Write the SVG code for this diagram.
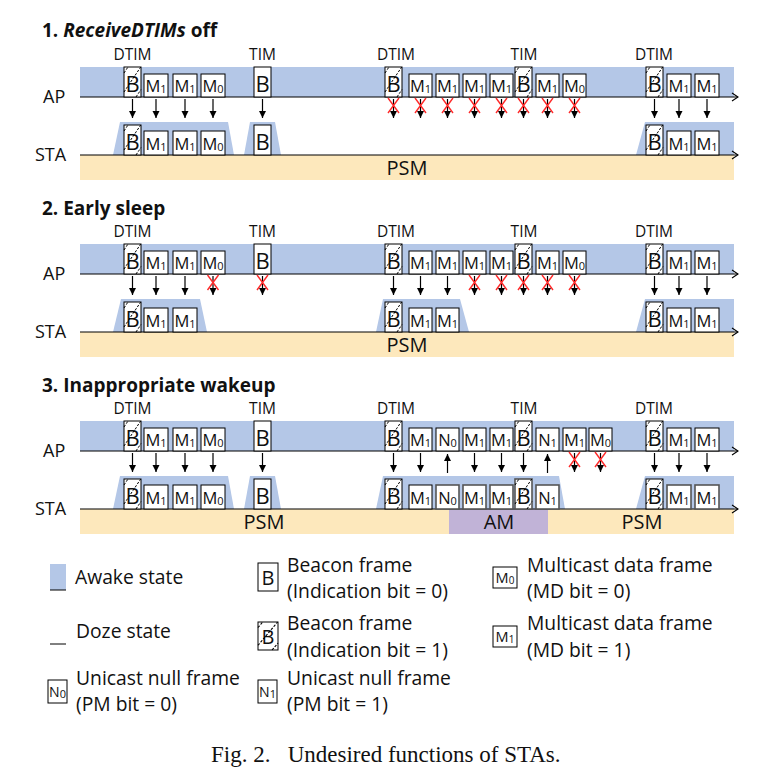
<svg xmlns="http://www.w3.org/2000/svg" xmlns:xlink="http://www.w3.org/1999/xlink" width="761" height="776" viewBox="0 0 761 776">
<style>
text{font-family:"Open Sans","DejaVu Sans",sans-serif;fill:#111}
.title{font-size:19px;font-weight:bold}
.side{font-size:18px}
.tag{font-size:15.5px;text-anchor:middle}
.tb{font-size:22px;text-anchor:middle}
.tm{font-size:16.5px;text-anchor:middle}
.sub{font-size:11px}
.state{font-size:20px;text-anchor:middle}
.leg{font-size:19.3px}
.cap{font-family:"Liberation Serif","Times New Roman",serif;font-size:23px}
.awake{fill:#b4c7e7}
.psm{fill:#fde8bc}
.am{fill:#c1b3d7}
.f{fill:#fff;stroke:#000;stroke-width:1}
.fg{fill:#fff;stroke:#555;stroke-width:1.6}
.axis{stroke:#000;stroke-width:1.2;fill:none;marker-end:url(#ax)}
.arr{stroke:#000;stroke-width:1.2;marker-end:url(#ah)}
.hl{stroke:#000;stroke-width:1;stroke-dasharray:2.5 1.5;fill:none}
.rx{stroke:#ff2a2a;stroke-width:1.4;fill:none}
</style>
<defs>
<marker id="ax" markerUnits="userSpaceOnUse" markerWidth="10" markerHeight="10" viewBox="0 0 10 10" refX="7" refY="5" orient="auto"><path d="M1,1 L7,5 L1,9" fill="none" stroke="#000" stroke-width="1.1"/></marker>
<marker id="ah" markerUnits="userSpaceOnUse" markerWidth="8" markerHeight="8" viewBox="0 0 8 8" refX="7" refY="4" orient="auto"><path d="M0,0.5 L7,4 L0,7.5 z" fill="#000"/></marker>
<g id="hatch"><path class="hl" d="M0,6 L4,0 M0,25 L16.7,0 M12,30 L17,22.5"/></g>
<g id="rx"><path class="rx" d="M-5.5,-7.5 L5.5,7.5 M5.5,-7.5 L-5.5,7.5"/></g>
</defs>

<!-- ===================== Section 1 ===================== -->
<g id="section1">
<text class="title" x="42" y="37">1. <tspan font-style="italic">ReceiveDTIMs</tspan> off</text>
<g id="s1-lanes">
<rect class="awake" x="80" y="67" width="654" height="30"/>
<rect class="psm" x="80" y="155" width="654" height="25"/>
<polygon class="awake" points="113,155 120,122 228,122 234,155"/>
<polygon class="awake" points="244,155 250,122 275,122 281,155"/>
<polygon class="awake" points="636,155 645,122 734,122 734,155"/>
<line class="axis" x1="80" y1="97" x2="738" y2="97"/>
<line class="axis" x1="80" y1="155" x2="738" y2="155"/>
<text class="side" x="43" y="103">AP</text>
<text class="side" x="35" y="161">STA</text>
<text class="state" x="407" y="175">PSM</text>
</g>
<g id="s1-tags">
<text class="tag" x="132.5" y="60">DTIM</text>
<text class="tag" x="262.5" y="60">TIM</text>
<text class="tag" x="396" y="60">DTIM</text>
<text class="tag" x="524" y="60">TIM</text>
<text class="tag" x="654" y="60">DTIM</text>
</g>
<g id="s1-ap-frames">
<g id="s1-ap-b1"><rect class="f" x="124" y="67" width="17" height="30"/><text class="tb" x="132.5" y="92">B</text><use href="#hatch" x="124" y="67"/></g>
<g id="s1-ap-m1a"><rect class="f" x="144" y="74" width="24" height="23"/><text class="tm" x="156" y="92">M<tspan class="sub" dy="1">1</tspan></text></g>
<g id="s1-ap-m1b"><rect class="f" x="173" y="74" width="24" height="23"/><text class="tm" x="185" y="92">M<tspan class="sub" dy="1">1</tspan></text></g>
<g id="s1-ap-m0a"><rect class="f" x="201" y="74" width="24" height="23"/><text class="tm" x="213" y="92">M<tspan class="sub" dy="1">0</tspan></text></g>
<g id="s1-ap-b2"><rect class="f" x="254" y="67" width="17" height="30"/><text class="tb" x="262.5" y="92">B</text></g>
<g id="s1-ap-b3"><rect class="f" x="385" y="67" width="17" height="30"/><text class="tb" x="393.5" y="92">B</text><use href="#hatch" x="385" y="67"/></g>
<g id="s1-ap-m1c"><rect class="f" x="409" y="74" width="23" height="23"/><text class="tm" x="420.5" y="92">M<tspan class="sub" dy="1">1</tspan></text></g>
<g id="s1-ap-m1d"><rect class="f" x="436" y="74" width="23" height="23"/><text class="tm" x="447.5" y="92">M<tspan class="sub" dy="1">1</tspan></text></g>
<g id="s1-ap-m1e"><rect class="f" x="463" y="74" width="23" height="23"/><text class="tm" x="474.5" y="92">M<tspan class="sub" dy="1">1</tspan></text></g>
<g id="s1-ap-m1f"><rect class="f" x="490" y="74" width="23" height="23"/><text class="tm" x="501.5" y="92">M<tspan class="sub" dy="1">1</tspan></text></g>
<g id="s1-ap-b4"><rect class="f" x="515" y="67" width="17" height="30"/><text class="tb" x="523.5" y="92">B</text><use href="#hatch" x="515" y="67"/></g>
<g id="s1-ap-m1g"><rect class="f" x="536" y="74" width="23" height="23"/><text class="tm" x="547.5" y="92">M<tspan class="sub" dy="1">1</tspan></text></g>
<g id="s1-ap-m0b"><rect class="f" x="563" y="74" width="23" height="23"/><text class="tm" x="574.5" y="92">M<tspan class="sub" dy="1">0</tspan></text></g>
<g id="s1-ap-b5"><rect class="f" x="646" y="67" width="17" height="30"/><text class="tb" x="654.5" y="92">B</text><use href="#hatch" x="646" y="67"/></g>
<g id="s1-ap-m1h"><rect class="f" x="667" y="74" width="24" height="23"/><text class="tm" x="679" y="92">M<tspan class="sub" dy="1">1</tspan></text></g>
<g id="s1-ap-m1i"><rect class="f" x="695" y="74" width="24" height="23"/><text class="tm" x="707" y="92">M<tspan class="sub" dy="1">1</tspan></text></g>
</g>
<g id="s1-sta-frames">
<g id="s1-sta-b1"><rect class="f" x="124" y="125" width="17" height="30"/><text class="tb" x="132.5" y="150">B</text><use href="#hatch" x="124" y="125"/></g>
<g id="s1-sta-m1a"><rect class="f" x="144" y="131" width="24" height="24"/><text class="tm" x="156" y="150">M<tspan class="sub" dy="1">1</tspan></text></g>
<g id="s1-sta-m1b"><rect class="f" x="173" y="131" width="24" height="24"/><text class="tm" x="185" y="150">M<tspan class="sub" dy="1">1</tspan></text></g>
<g id="s1-sta-m0a"><rect class="f" x="201" y="131" width="24" height="24"/><text class="tm" x="213" y="150">M<tspan class="sub" dy="1">0</tspan></text></g>
<g id="s1-sta-b2"><rect class="f" x="254" y="125" width="17" height="30"/><text class="tb" x="262.5" y="150">B</text></g>
<g id="s1-sta-b5"><rect class="f" x="646" y="125" width="17" height="30"/><text class="tb" x="654.5" y="150">B</text><use href="#hatch" x="646" y="125"/></g>
<g id="s1-sta-m1h"><rect class="f" x="667" y="131" width="24" height="24"/><text class="tm" x="679" y="150">M<tspan class="sub" dy="1">1</tspan></text></g>
<g id="s1-sta-m1i"><rect class="f" x="695" y="131" width="24" height="24"/><text class="tm" x="707" y="150">M<tspan class="sub" dy="1">1</tspan></text></g>
</g>
<g id="s1-connectors">
<line class="arr" x1="132.5" y1="99" x2="132.5" y2="118"/>
<line class="arr" x1="156" y1="99" x2="156" y2="118"/>
<line class="arr" x1="185" y1="99" x2="185" y2="118"/>
<line class="arr" x1="213" y1="99" x2="213" y2="118"/>
<line class="arr" x1="262.5" y1="99" x2="262.5" y2="118"/>
<line class="arr" x1="393.5" y1="99" x2="393.5" y2="118"/>
<line class="arr" x1="420.5" y1="99" x2="420.5" y2="118"/>
<line class="arr" x1="447.5" y1="99" x2="447.5" y2="118"/>
<line class="arr" x1="474.5" y1="99" x2="474.5" y2="118"/>
<line class="arr" x1="501.5" y1="99" x2="501.5" y2="118"/>
<line class="arr" x1="523.5" y1="99" x2="523.5" y2="118"/>
<line class="arr" x1="547.5" y1="99" x2="547.5" y2="118"/>
<line class="arr" x1="574.5" y1="99" x2="574.5" y2="118"/>
<line class="arr" x1="654.5" y1="99" x2="654.5" y2="118"/>
<line class="arr" x1="679" y1="99" x2="679" y2="118"/>
<line class="arr" x1="707" y1="99" x2="707" y2="118"/>
<use href="#rx" x="393.5" y="105.5"/>
<use href="#rx" x="420.5" y="105.5"/>
<use href="#rx" x="447.5" y="105.5"/>
<use href="#rx" x="474.5" y="105.5"/>
<use href="#rx" x="501.5" y="105.5"/>
<use href="#rx" x="523.5" y="105.5"/>
<use href="#rx" x="547.5" y="105.5"/>
<use href="#rx" x="574.5" y="105.5"/>
</g>
</g>

<!-- ===================== Section 2 ===================== -->
<g id="section2" transform="translate(0,177)">
<text class="title" x="42" y="38">2. Early sleep</text>
<g id="s2-lanes">
<rect class="awake" x="80" y="67" width="654" height="30"/>
<rect class="psm" x="80" y="155" width="654" height="25"/>
<polygon class="awake" points="113,155 121,122 200,122 207,155"/>
<polygon class="awake" points="376,155 383,122 460,122 469,155"/>
<polygon class="awake" points="636,155 645,122 734,122 734,155"/>
<line class="axis" x1="80" y1="97" x2="738" y2="97"/>
<line class="axis" x1="80" y1="155" x2="738" y2="155"/>
<text class="side" x="43" y="103">AP</text>
<text class="side" x="35" y="161">STA</text>
<text class="state" x="407" y="175">PSM</text>
</g>
<g id="s2-tags">
<text class="tag" x="132.5" y="60">DTIM</text>
<text class="tag" x="262.5" y="60">TIM</text>
<text class="tag" x="396" y="60">DTIM</text>
<text class="tag" x="524" y="60">TIM</text>
<text class="tag" x="654" y="60">DTIM</text>
</g>
<g id="s2-ap-frames">
<g id="s2-ap-b1"><rect class="f" x="124" y="67" width="17" height="30"/><text class="tb" x="132.5" y="92">B</text><use href="#hatch" x="124" y="67"/></g>
<g id="s2-ap-m1a"><rect class="f" x="144" y="74" width="24" height="23"/><text class="tm" x="156" y="92">M<tspan class="sub" dy="1">1</tspan></text></g>
<g id="s2-ap-m1b"><rect class="f" x="173" y="74" width="24" height="23"/><text class="tm" x="185" y="92">M<tspan class="sub" dy="1">1</tspan></text></g>
<g id="s2-ap-m0a"><rect class="f" x="201" y="74" width="24" height="23"/><text class="tm" x="213" y="92">M<tspan class="sub" dy="1">0</tspan></text></g>
<g id="s2-ap-b2"><rect class="f" x="254" y="67" width="17" height="30"/><text class="tb" x="262.5" y="92">B</text></g>
<g id="s2-ap-b3"><rect class="f" x="385" y="67" width="17" height="30"/><text class="tb" x="393.5" y="92">B</text><use href="#hatch" x="385" y="67"/></g>
<g id="s2-ap-m1c"><rect class="f" x="409" y="74" width="23" height="23"/><text class="tm" x="420.5" y="92">M<tspan class="sub" dy="1">1</tspan></text></g>
<g id="s2-ap-m1d"><rect class="f" x="436" y="74" width="23" height="23"/><text class="tm" x="447.5" y="92">M<tspan class="sub" dy="1">1</tspan></text></g>
<g id="s2-ap-m1e"><rect class="f" x="463" y="74" width="23" height="23"/><text class="tm" x="474.5" y="92">M<tspan class="sub" dy="1">1</tspan></text></g>
<g id="s2-ap-m1f"><rect class="f" x="490" y="74" width="23" height="23"/><text class="tm" x="501.5" y="92">M<tspan class="sub" dy="1">1</tspan></text></g>
<g id="s2-ap-b4"><rect class="f" x="515" y="67" width="17" height="30"/><text class="tb" x="523.5" y="92">B</text><use href="#hatch" x="515" y="67"/></g>
<g id="s2-ap-m1g"><rect class="f" x="536" y="74" width="23" height="23"/><text class="tm" x="547.5" y="92">M<tspan class="sub" dy="1">1</tspan></text></g>
<g id="s2-ap-m0b"><rect class="f" x="563" y="74" width="23" height="23"/><text class="tm" x="574.5" y="92">M<tspan class="sub" dy="1">0</tspan></text></g>
<g id="s2-ap-b5"><rect class="f" x="646" y="67" width="17" height="30"/><text class="tb" x="654.5" y="92">B</text><use href="#hatch" x="646" y="67"/></g>
<g id="s2-ap-m1h"><rect class="f" x="667" y="74" width="24" height="23"/><text class="tm" x="679" y="92">M<tspan class="sub" dy="1">1</tspan></text></g>
<g id="s2-ap-m1i"><rect class="f" x="695" y="74" width="24" height="23"/><text class="tm" x="707" y="92">M<tspan class="sub" dy="1">1</tspan></text></g>
</g>
<g id="s2-sta-frames">
<g id="s2-sta-b1"><rect class="f" x="124" y="125" width="17" height="30"/><text class="tb" x="132.5" y="150">B</text><use href="#hatch" x="124" y="125"/></g>
<g id="s2-sta-m1a"><rect class="f" x="144" y="131" width="24" height="24"/><text class="tm" x="156" y="150">M<tspan class="sub" dy="1">1</tspan></text></g>
<g id="s2-sta-m1b"><rect class="f" x="173" y="131" width="24" height="24"/><text class="tm" x="185" y="150">M<tspan class="sub" dy="1">1</tspan></text></g>
<g id="s2-sta-b3"><rect class="f" x="385" y="125" width="17" height="30"/><text class="tb" x="393.5" y="150">B</text><use href="#hatch" x="385" y="125"/></g>
<g id="s2-sta-m1c"><rect class="f" x="409" y="131" width="23" height="24"/><text class="tm" x="420.5" y="150">M<tspan class="sub" dy="1">1</tspan></text></g>
<g id="s2-sta-m1d"><rect class="f" x="436" y="131" width="23" height="24"/><text class="tm" x="447.5" y="150">M<tspan class="sub" dy="1">1</tspan></text></g>
<g id="s2-sta-b5"><rect class="f" x="646" y="125" width="17" height="30"/><text class="tb" x="654.5" y="150">B</text><use href="#hatch" x="646" y="125"/></g>
<g id="s2-sta-m1h"><rect class="f" x="667" y="131" width="24" height="24"/><text class="tm" x="679" y="150">M<tspan class="sub" dy="1">1</tspan></text></g>
<g id="s2-sta-m1i"><rect class="f" x="695" y="131" width="24" height="24"/><text class="tm" x="707" y="150">M<tspan class="sub" dy="1">1</tspan></text></g>
</g>
<g id="s2-connectors">
<line class="arr" x1="132.5" y1="99" x2="132.5" y2="118"/>
<line class="arr" x1="156" y1="99" x2="156" y2="118"/>
<line class="arr" x1="185" y1="99" x2="185" y2="118"/>
<line class="arr" x1="213" y1="99" x2="213" y2="118"/>
<line class="arr" x1="262.5" y1="99" x2="262.5" y2="118"/>
<line class="arr" x1="393.5" y1="99" x2="393.5" y2="118"/>
<line class="arr" x1="420.5" y1="99" x2="420.5" y2="118"/>
<line class="arr" x1="447.5" y1="99" x2="447.5" y2="118"/>
<line class="arr" x1="474.5" y1="99" x2="474.5" y2="118"/>
<line class="arr" x1="501.5" y1="99" x2="501.5" y2="118"/>
<line class="arr" x1="523.5" y1="99" x2="523.5" y2="118"/>
<line class="arr" x1="547.5" y1="99" x2="547.5" y2="118"/>
<line class="arr" x1="574.5" y1="99" x2="574.5" y2="118"/>
<line class="arr" x1="654.5" y1="99" x2="654.5" y2="118"/>
<line class="arr" x1="679" y1="99" x2="679" y2="118"/>
<line class="arr" x1="707" y1="99" x2="707" y2="118"/>
<use href="#rx" x="213" y="105.5"/>
<use href="#rx" x="262.5" y="105.5"/>
<use href="#rx" x="474.5" y="105.5"/>
<use href="#rx" x="501.5" y="105.5"/>
<use href="#rx" x="523.5" y="105.5"/>
<use href="#rx" x="547.5" y="105.5"/>
<use href="#rx" x="574.5" y="105.5"/>
</g>
</g>

<!-- ===================== Section 3 ===================== -->
<g id="section3" transform="translate(0,354)">
<text class="title" x="42" y="38">3. Inappropriate wakeup</text>
<g id="s3-lanes">
<rect class="awake" x="80" y="67" width="654" height="30"/>
<rect class="psm" x="80" y="155" width="654" height="25"/>
<rect class="am" x="449" y="155" width="99" height="25"/>
<polygon class="awake" points="113,155 120,122 228,122 234,155"/>
<polygon class="awake" points="244,155 250,122 275,122 281,155"/>
<polygon class="awake" points="376,155 383,122 559,122 565,155"/>
<polygon class="awake" points="636,155 645,122 734,122 734,155"/>
<line class="axis" x1="80" y1="97" x2="738" y2="97"/>
<line class="axis" x1="80" y1="155" x2="738" y2="155"/>
<text class="side" x="43" y="103">AP</text>
<text class="side" x="35" y="161">STA</text>
<text class="state" x="264" y="175">PSM</text>
<text class="state" x="499" y="175">AM</text>
<text class="state" x="642" y="175">PSM</text>
</g>
<g id="s3-tags">
<text class="tag" x="132.5" y="60">DTIM</text>
<text class="tag" x="262.5" y="60">TIM</text>
<text class="tag" x="396" y="60">DTIM</text>
<text class="tag" x="524" y="60">TIM</text>
<text class="tag" x="654" y="60">DTIM</text>
</g>
<g id="s3-ap-frames">
<g id="s3-ap-b1"><rect class="f" x="124" y="67" width="17" height="30"/><text class="tb" x="132.5" y="92">B</text><use href="#hatch" x="124" y="67"/></g>
<g id="s3-ap-m1a"><rect class="f" x="144" y="74" width="24" height="23"/><text class="tm" x="156" y="92">M<tspan class="sub" dy="1">1</tspan></text></g>
<g id="s3-ap-m1b"><rect class="f" x="173" y="74" width="24" height="23"/><text class="tm" x="185" y="92">M<tspan class="sub" dy="1">1</tspan></text></g>
<g id="s3-ap-m0a"><rect class="f" x="201" y="74" width="24" height="23"/><text class="tm" x="213" y="92">M<tspan class="sub" dy="1">0</tspan></text></g>
<g id="s3-ap-b2"><rect class="f" x="254" y="67" width="17" height="30"/><text class="tb" x="262.5" y="92">B</text></g>
<g id="s3-ap-b3"><rect class="f" x="385" y="67" width="17" height="30"/><text class="tb" x="393.5" y="92">B</text><use href="#hatch" x="385" y="67"/></g>
<g id="s3-ap-m1c"><rect class="f" x="409" y="74" width="23" height="23"/><text class="tm" x="420.5" y="92">M<tspan class="sub" dy="1">1</tspan></text></g>
<g id="s3-ap-n0"><rect class="f" x="436" y="74" width="23" height="23"/><text class="tm" x="447.5" y="92">N<tspan class="sub" dy="1">0</tspan></text></g>
<g id="s3-ap-m1d"><rect class="f" x="463" y="74" width="23" height="23"/><text class="tm" x="474.5" y="92">M<tspan class="sub" dy="1">1</tspan></text></g>
<g id="s3-ap-m1e"><rect class="f" x="490" y="74" width="23" height="23"/><text class="tm" x="501.5" y="92">M<tspan class="sub" dy="1">1</tspan></text></g>
<g id="s3-ap-b4"><rect class="f" x="515" y="67" width="17" height="30"/><text class="tb" x="523.5" y="92">B</text><use href="#hatch" x="515" y="67"/></g>
<g id="s3-ap-n1"><rect class="f" x="536" y="74" width="23" height="23"/><text class="tm" x="547.5" y="92">N<tspan class="sub" dy="1">1</tspan></text></g>
<g id="s3-ap-m1f"><rect class="f" x="563" y="74" width="23" height="23"/><text class="tm" x="574.5" y="92">M<tspan class="sub" dy="1">1</tspan></text></g>
<g id="s3-ap-m0b"><rect class="f" x="589" y="74" width="23" height="23"/><text class="tm" x="600.5" y="92">M<tspan class="sub" dy="1">0</tspan></text></g>
<g id="s3-ap-b5"><rect class="f" x="646" y="67" width="17" height="30"/><text class="tb" x="654.5" y="92">B</text><use href="#hatch" x="646" y="67"/></g>
<g id="s3-ap-m1h"><rect class="f" x="667" y="74" width="24" height="23"/><text class="tm" x="679" y="92">M<tspan class="sub" dy="1">1</tspan></text></g>
<g id="s3-ap-m1i"><rect class="f" x="695" y="74" width="24" height="23"/><text class="tm" x="707" y="92">M<tspan class="sub" dy="1">1</tspan></text></g>
</g>
<g id="s3-sta-frames">
<g id="s3-sta-b1"><rect class="f" x="124" y="125" width="17" height="30"/><text class="tb" x="132.5" y="150">B</text><use href="#hatch" x="124" y="125"/></g>
<g id="s3-sta-m1a"><rect class="f" x="144" y="131" width="24" height="24"/><text class="tm" x="156" y="150">M<tspan class="sub" dy="1">1</tspan></text></g>
<g id="s3-sta-m1b"><rect class="f" x="173" y="131" width="24" height="24"/><text class="tm" x="185" y="150">M<tspan class="sub" dy="1">1</tspan></text></g>
<g id="s3-sta-m0a"><rect class="f" x="201" y="131" width="24" height="24"/><text class="tm" x="213" y="150">M<tspan class="sub" dy="1">0</tspan></text></g>
<g id="s3-sta-b2"><rect class="f" x="254" y="125" width="17" height="30"/><text class="tb" x="262.5" y="150">B</text></g>
<g id="s3-sta-b3"><rect class="f" x="385" y="125" width="17" height="30"/><text class="tb" x="393.5" y="150">B</text><use href="#hatch" x="385" y="125"/></g>
<g id="s3-sta-m1c"><rect class="f" x="409" y="131" width="23" height="24"/><text class="tm" x="420.5" y="150">M<tspan class="sub" dy="1">1</tspan></text></g>
<g id="s3-sta-n0"><rect class="fg" x="436" y="131" width="23" height="24"/><text class="tm" x="447.5" y="150">N<tspan class="sub" dy="1">0</tspan></text></g>
<g id="s3-sta-m1d"><rect class="fg" x="463" y="131" width="23" height="24"/><text class="tm" x="474.5" y="150">M<tspan class="sub" dy="1">1</tspan></text></g>
<g id="s3-sta-m1e"><rect class="fg" x="490" y="131" width="23" height="24"/><text class="tm" x="501.5" y="150">M<tspan class="sub" dy="1">1</tspan></text></g>
<g id="s3-sta-b4"><rect class="fg" x="515" y="125" width="17" height="30"/><text class="tb" x="523.5" y="150">B</text><use href="#hatch" x="515" y="125"/></g>
<g id="s3-sta-n1"><rect class="fg" x="536" y="131" width="23" height="24"/><text class="tm" x="547.5" y="150">N<tspan class="sub" dy="1">1</tspan></text></g>
<g id="s3-sta-b5"><rect class="f" x="646" y="125" width="17" height="30"/><text class="tb" x="654.5" y="150">B</text><use href="#hatch" x="646" y="125"/></g>
<g id="s3-sta-m1h"><rect class="fg" x="667" y="131" width="24" height="24"/><text class="tm" x="679" y="150">M<tspan class="sub" dy="1">1</tspan></text></g>
<g id="s3-sta-m1i"><rect class="fg" x="695" y="131" width="24" height="24"/><text class="tm" x="707" y="150">M<tspan class="sub" dy="1">1</tspan></text></g>
</g>
<g id="s3-connectors">
<line class="arr" x1="132.5" y1="99" x2="132.5" y2="118"/>
<line class="arr" x1="156" y1="99" x2="156" y2="118"/>
<line class="arr" x1="185" y1="99" x2="185" y2="118"/>
<line class="arr" x1="213" y1="99" x2="213" y2="118"/>
<line class="arr" x1="262.5" y1="99" x2="262.5" y2="118"/>
<line class="arr" x1="393.5" y1="99" x2="393.5" y2="118"/>
<line class="arr" x1="420.5" y1="99" x2="420.5" y2="118"/>
<line class="arr" x1="447.5" y1="119" x2="447.5" y2="100"/>
<line class="arr" x1="474.5" y1="99" x2="474.5" y2="118"/>
<line class="arr" x1="501.5" y1="99" x2="501.5" y2="118"/>
<line class="arr" x1="523.5" y1="99" x2="523.5" y2="118"/>
<line class="arr" x1="547.5" y1="119" x2="547.5" y2="100"/>
<line class="arr" x1="574.5" y1="99" x2="574.5" y2="118"/>
<line class="arr" x1="600.5" y1="99" x2="600.5" y2="118"/>
<line class="arr" x1="654.5" y1="99" x2="654.5" y2="118"/>
<line class="arr" x1="679" y1="99" x2="679" y2="118"/>
<line class="arr" x1="707" y1="99" x2="707" y2="118"/>
<use href="#rx" x="574.5" y="105.5"/>
<use href="#rx" x="600.5" y="105.5"/>
</g>
</g>

<!-- ===================== Legend ===================== -->
<g id="legend">
<g id="leg-awake"><rect class="awake" x="50" y="564" width="16" height="26"/><line x1="50" y1="590" x2="66" y2="590" stroke="#000" stroke-width="1"/><text class="leg" x="75" y="584">Awake state</text></g>
<g id="leg-doze"><line x1="50" y1="644" x2="66" y2="644" stroke="#000" stroke-width="1"/><text class="leg" x="76" y="638">Doze state</text></g>
<g id="leg-n0"><rect class="f" x="48" y="680" width="19" height="23"/><text x="57.5" y="697" font-size="14" text-anchor="middle">N<tspan font-size="11" dy="1">0</tspan></text><text class="leg" x="76" y="685">Unicast null frame</text><text class="leg" x="76" y="711">(PM bit = 0)</text></g>
<g id="leg-b0"><rect class="f" x="258" y="563" width="20" height="28"/><text x="268" y="585" font-size="20" text-anchor="middle">B</text><text class="leg" x="287" y="572">Beacon frame</text><text class="leg" x="287" y="598">(Indication bit = 0)</text></g>
<g id="leg-b1"><rect class="f" x="258" y="622" width="20" height="28"/><text x="268" y="644" font-size="20" text-anchor="middle">B</text><use href="#hatch" transform="translate(258,622) scale(1.176,0.933)"/><text class="leg" x="287" y="630">Beacon frame</text><text class="leg" x="287" y="657">(Indication bit = 1)</text></g>
<g id="leg-n1"><rect class="f" x="258" y="680" width="19" height="23"/><text x="267.5" y="697" font-size="14" text-anchor="middle">N<tspan font-size="11" dy="1">1</tspan></text><text class="leg" x="287" y="685">Unicast null frame</text><text class="leg" x="287" y="711">(PM bit = 1)</text></g>
<g id="leg-m0"><rect class="f" x="493" y="567" width="24" height="21"/><text x="505" y="583" font-size="14.5" text-anchor="middle">M<tspan font-size="10" dy="1">0</tspan></text><text class="leg" x="527" y="572">Multicast data frame</text><text class="leg" x="527" y="598">(MD bit = 0)</text></g>
<g id="leg-m1"><rect class="f" x="493" y="626" width="24" height="21"/><text x="505" y="642" font-size="14.5" text-anchor="middle">M<tspan font-size="10" dy="1">1</tspan></text><text class="leg" x="527" y="630">Multicast data frame</text><text class="leg" x="527" y="657">(MD bit = 1)</text></g>
</g>

<text class="cap" x="211" y="762" xml:space="preserve">Fig. 2.   Undesired functions of STAs.</text>
</svg>
